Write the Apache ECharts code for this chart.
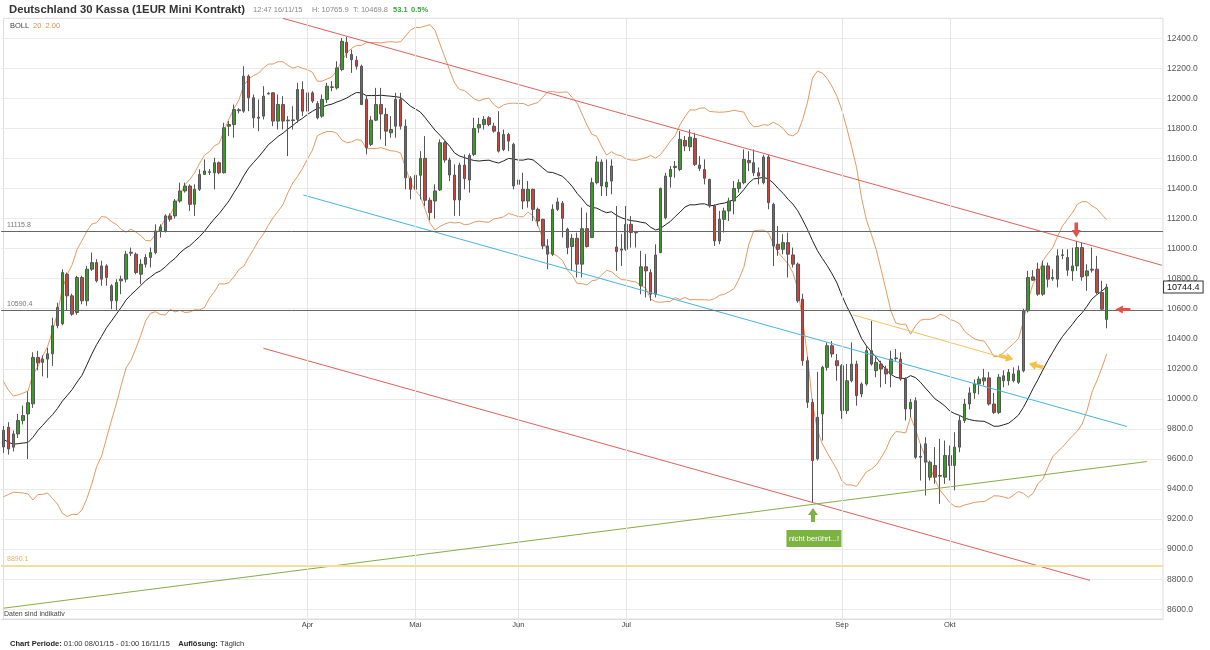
<!DOCTYPE html>
<html>
<head>
<meta charset="utf-8">
<title>Deutschland 30 Kassa</title>
<script src="https://cdn.jsdelivr.net/npm/echarts@6/dist/echarts.min.js"></script>
<style>
  html, body { margin: 0; padding: 0; background: #fff; }
  #chart { width: 1210px; height: 650px; }
</style>
</head>
<body>
<div id="chart"></div>
<script>
// daily candles, one per weekday from 05/01/15 to 16/11/15
const openPrices = [
  9680, 9811, 9679, 9767, 9856, 9900, 9967, 10276, 10243, 10265,
  10300, 10487, 10500, 10830, 10686, 10575, 10808, 10653, 10863, 10907,
  10797, 10885, 10753, 10653, 10786, 10797, 10970, 10963, 10830, 10896,
  10941, 10974, 11118, 11118, 11218, 11218, 11317, 11384, 11417, 11295,
  11395, 11494, 11508, 11505, 11572, 11505, 11815, 11826, 11918, 11915,
  12148, 12004, 11875, 11882, 12030, 12037, 11849, 11959, 11855, 11853,
  11860, 12059, 11915, 12037, 11966, 11882, 11993, 12073, 12070, 12192,
  12373, 12292, 12254, 12214, 11993, 11694, 11855, 11959, 11893, 11771,
  11815, 11993, 11815, 11468, 11395, 11488, 11601, 11322, 11317, 11391,
  11705, 11590, 11490, 11324, 11556, 11457, 11627, 11804, 11826, 11871,
  11815, 11775, 11660, 11760, 11694, 11428, 11395, 11317, 11395, 11262,
  11195, 11018, 10963, 11262, 11302, 11129, 11014, 11069, 10897, 11133,
  11074, 11439, 11576, 11410, 11450, 11011, 10990, 10996, 11162, 11105,
  10753, 10879, 10841, 10697, 10974, 11206, 11479, 11540, 11527, 11720,
  11678, 11733, 11556, 11527, 11461, 11284, 11051, 11195, 11251, 11317,
  11401, 11439, 11587, 11572, 11505, 11439, 11610, 11295, 11029, 10996,
  11040, 10958, 10897, 10664, 10254, 9977, 9601, 9900, 10210, 10354,
  10254, 10221, 9922, 10121, 10232, 10033, 10099, 10321, 10188, 10232,
  10199, 10166, 10268, 10265, 10132, 9933, 9988, 9617, 9701, 9479,
  9557, 9490, 9479, 9623, 9557, 9679, 9856, 9966, 10040, 10100,
  10120, 10140, 9966, 9910, 10154, 10121, 10166, 10110, 10187, 10586,
  10812, 10863, 10697, 10885, 10808, 10797, 10955, 10941, 10852, 10885,
  11007, 10819, 10857, 10863, 10708, 10529
];
const closePrices = [
  9790, 9667, 9767, 9856, 9889, 9975, 10276, 10240, 10265, 10300,
  10487, 10609, 10841, 10686, 10564, 10808, 10653, 10863, 10907, 10786,
  10885, 10808, 10653, 10775, 10797, 10963, 10976, 10841, 10896, 10941,
  10974, 11118, 11145, 11218, 11196, 11317, 11384, 11417, 11295, 11395,
  11494, 11517, 11512, 11572, 11505, 11804, 11826, 11926, 11924, 12148,
  12004, 11871, 11868, 12015, 12034, 11849, 11959, 11849, 11851, 11857,
  12059, 11915, 12037, 11982, 11871, 11993, 12081, 12077, 12203, 12380,
  12303, 12258, 12214, 11959, 11672, 11855, 11959, 11897, 11782, 11793,
  11993, 11815, 11472, 11395, 11488, 11601, 11322, 11240, 11384, 11705,
  11590, 11490, 11324, 11556, 11466, 11620, 11800, 11826, 11860, 11826,
  11782, 11649, 11760, 11716, 11417, 11457, 11317, 11395, 11262, 11184,
  11018, 10963, 11262, 11311, 11202, 11007, 11069, 10897, 11133, 11014,
  11439, 11576, 11417, 11443, 11550, 10981, 10998, 11162, 11107, 11109,
  10879, 10852, 10697, 10958, 11401, 11483, 11527, 11548, 11727, 11683,
  11742, 11561, 11534, 11468, 11284, 11051, 11195, 11251, 11317, 11401,
  11439, 11594, 11572, 11505, 11483, 11610, 11306, 11018, 10996, 11040,
  10963, 10897, 10653, 10254, 9977, 9590, 9878, 10210, 10354, 10299,
  10221, 9922, 10121, 10232, 10022, 10099, 10321, 10232, 10243, 10199,
  10166, 10265, 10272, 10132, 9933, 9977, 9612, 9612, 9579, 9579,
  9479, 9486, 9623, 9557, 9679, 9856, 9966, 10040, 10100, 10132,
  10140, 9966, 9910, 10144, 10121, 10177, 10121, 10188, 10586, 10808,
  10790, 10697, 10885, 10797, 10800, 10952, 10959, 10857, 10885, 11007,
  10812, 10852, 10863, 10708, 10597, 10744.4
];
const lowPrices = [
  9640, 9630, 9650, 9740, 9830, 9600, 9940, 10190, 10150, 10140,
  10220, 10470, 10490, 10590, 10553, 10560, 10630, 10620, 10852, 10775,
  10753, 10753, 10597, 10586, 10697, 10775, 10950, 10830, 10764, 10875,
  10875, 10963, 11074, 11107, 11180, 11200, 11306, 11373, 11251, 11218,
  11384, 11494, 11490, 11395, 11495, 11500, 11749, 11738, 11900, 11904,
  11915, 11804, 11782, 11860, 12026, 11815, 11793, 11793, 11616, 11793,
  11838, 11882, 11782, 11970, 11860, 11871, 11970, 12048, 12059, 12181,
  12269, 12170, 12192, 11959, 11627, 11683, 11849, 11727, 11683, 11738,
  11738, 11793, 11395, 11328, 11384, 11328, 11284, 11190, 11200, 11384,
  11572, 11450, 11218, 11218, 11395, 11373, 11616, 11771, 11793, 11815,
  11771, 11640, 11649, 11649, 11395, 11350, 11262, 11273, 11184, 11150,
  10996, 10863, 10952, 11251, 11074, 10963, 10852, 10808, 10808, 11007,
  11070, 11428, 11350, 11350, 11362, 10852, 10885, 10985, 11007, 11007,
  10697, 10675, 10653, 10675, 10970, 11195, 11406, 11472, 11516, 11649,
  11649, 11550, 11516, 11428, 11273, 11018, 11029, 11107, 11184, 11228,
  11373, 11428, 11516, 11483, 11428, 11428, 11262, 10885, 10952, 10963,
  10808, 10875, 10640, 10221, 9940, 9313, 9590, 9723, 10188, 10276,
  10121, 9867, 9900, 10110, 9955, 10011, 10088, 10221, 10144, 10077,
  10099, 10077, 10254, 10121, 9856, 9878, 9601, 9457, 9357, 9457,
  9435, 9302, 9435, 9457, 9391, 9645, 9840, 9930, 10000, 10030,
  10090, 9955, 9900, 9900, 10077, 10090, 10110, 10099, 10177, 10575,
  10786, 10686, 10686, 10742, 10786, 10742, 10930, 10819, 10786, 10852,
  10786, 10719, 10841, 10697, 10586, 10469.8
];
const highPrices = [
  9820, 9845, 9790, 9900, 9955, 10050, 10310, 10320, 10290, 10340,
  10540, 10640, 10863, 10841, 10700, 10820, 10820, 10885, 10974, 10930,
  10920, 10896, 10764, 10797, 10820, 10985, 11007, 10974, 10930, 10963,
  11007, 11162, 11162, 11229, 11235, 11330, 11439, 11439, 11428, 11428,
  11528, 11594, 11530, 11605, 11580, 11838, 11849, 11959, 11935, 12214,
  12159, 12026, 11993, 12081, 12041, 12041, 12026, 12015, 11882, 11948,
  12103, 12114, 12092, 12048, 11982, 12026, 12103, 12114, 12247, 12402,
  12409, 12325, 12281, 12225, 12015, 11882, 12070, 12070, 11937, 11882,
  12037, 12037, 11860, 11483, 11505, 11649, 11749, 11340, 11428, 11727,
  11716, 11605, 11561, 11572, 11627, 11634, 11871, 11871, 11882, 11882,
  11838, 11915, 11793, 11771, 11705, 11505, 11505, 11450, 11400, 11273,
  11200, 11063, 11295, 11339, 11317, 11140, 11096, 11107, 11273, 11240,
  11472, 11616, 11594, 11594, 11594, 11284, 11096, 11284, 11217, 11118,
  10985, 10963, 10863, 11029, 11406, 11505, 11550, 11583, 11782, 11749,
  11793, 11771, 11616, 11594, 11465, 11295, 11251, 11273, 11339, 11450,
  11461, 11660, 11649, 11660, 11540, 11625, 11625, 11306, 11150, 11096,
  11107, 11007, 10908, 10700, 10280, 10000, 10180, 10221, 10376, 10385,
  10299, 10232, 10232, 10376, 10254, 10110, 10354, 10520, 10276, 10254,
  10221, 10321, 10332, 10310, 10144, 10000, 10011, 9701, 9745, 9590,
  9679, 9734, 9723, 9690, 9778, 9889, 10000, 10077, 10130, 10150,
  10200, 10180, 10040, 10166, 10190, 10199, 10210, 10221, 10600, 10852,
  10857, 10907, 10919, 10907, 10863, 10996, 10996, 10996, 11007, 11051,
  11040, 10896, 11007, 10952, 10786, 10765.9
];
// closes of the 19 sessions before the first candle, only used for BOLL 20
const warmupCloses = [
  10087, 10014, 9793, 9799, 9903, 9594, 9335, 9563, 9564, 9811,
  9787, 9866, 9922, 9783, 9806, 9765, 9473, 9469, 9518
];

// drawn lines: [slot index, price] end points
const resistanceLine = [[57.0, 12533], [236.3, 10889]];
const channelLine = [[61.15, 11357], [229.15, 9816]];
const supportLine = [[53.0, 10337], [221.6, 8792]];
const riseLine = [[0, 8607], [233.2, 9583]];
const shortLine = [[173.3, 10559], [203.2, 10281]];
const levelValues = [11115.8, 10590.4, 8890.1];
const lastPrice = 10744.4;

// annotations: [slot index, price]
const redDownArrow = [218.8, 11124];
const redLeftArrow = [228.3, 10595];
const goldRightArrow = [204.5, 10276];
const goldLeftArrow = [210.6, 10222];
const greenUpArrow = [165.1, 9228];
const noteBox = [165.3, 9071];

const labelMonths = ['2015-04', '2015-05', '2015-06', '2015-07', '2015-09', '2015-10'];
const monthLabels = ['Apr', 'Mai', 'Jun', 'Jul', 'Sep', 'Okt'];

const SLOTS = 237;          // 226 sessions + empty space on the right
const FRAME_TOP = 12533;
const FRAME_BOTTOM = 8535;

const days = [];
for (let t = Date.UTC(2015, 0, 5); days.length < SLOTS; t += 86400000) {
  const d = new Date(t);
  const wd = d.getUTCDay();
  if (wd === 0 || wd === 6) continue;
  days.push(d.toISOString().slice(0, 10));
}
const monthIdx = labelMonths.map(m => days.findIndex(d => d.slice(0, 7) === m));

const candleData = openPrices.map((o, i) => [o, closePrices[i], lowPrices[i], highPrices[i]]);

// BOLL 20 2.00
const allCloses = warmupCloses.concat(closePrices);
const bollMid = [], bollUp = [], bollLow = [];
for (let i = 0; i < closePrices.length; i++) {
  const win = allCloses.slice(i + warmupCloses.length - 19, i + warmupCloses.length + 1);
  const mean = win.reduce((a, b) => a + b, 0) / win.length;
  const sd = Math.sqrt(win.reduce((a, b) => a + (b - mean) * (b - mean), 0) / win.length);
  bollMid.push(+mean.toFixed(1));
  bollUp.push(+(mean + 2 * sd).toFixed(1));
  bollLow.push(+(mean - 2 * sd).toFixed(1));
}

const FONT = '"Liberation Sans", Arial, sans-serif';
const ARROW = 'path://M5,0 L10,6 L7,6 L7,12 L3,12 L3,6 L0,6 Z';

function trend(data, color, width) {
  return {
    type: 'line', xAxisIndex: 1, yAxisIndex: 0, data: data,
    symbol: 'none', silent: true, z: 4,
    lineStyle: { color: color, width: width || 1 }
  };
}

const chart = echarts.init(document.getElementById('chart'));
chart.setOption({
  animation: false,
  backgroundColor: '#fff',
  grid: { left: 1.05, right: 46.95, top: 8.25, bottom: 10.7 },
  xAxis: [
    {
      type: 'category', data: days, boundaryGap: true, offset: -20.3,
      axisLine: { show: true, lineStyle: { color: '#dddddd' } },
      axisTick: {
        show: true, alignWithLabel: true, length: 10,
        interval: idx => monthIdx.includes(idx),
        lineStyle: { color: '#e6e6e6' }
      },
      axisLabel: {
        interval: idx => monthIdx.includes(idx),
        formatter: (v, idx) => monthLabels[monthIdx.indexOf(idx)] || '',
        margin: 2, fontSize: 7.5, color: '#444', fontFamily: FONT
      },
      splitLine: { show: false }
    },
    { type: 'value', min: -0.5, max: SLOTS - 0.5, show: false }
  ],
  yAxis: {
    type: 'value', position: 'right', min: 8400, max: 12600, interval: 200,
    axisLine: { show: false }, axisTick: { show: false },
    axisLabel: {
      showMinLabel: false, showMaxLabel: false, margin: 4,
      formatter: v => v.toFixed(1), fontSize: 8.5, color: '#555', fontFamily: FONT
    },
    splitLine: { show: true, showMinLine: false, showMaxLine: false, lineStyle: { color: '#ebebeb' } }
  },
  graphic: [
    { type: 'rect', z: 0, silent: true,
      shape: { x: 3.5, y: 18.3, width: 1159.5, height: 600.7 },
      style: { fill: 'none', stroke: '#dddddd', lineWidth: 1 } },
    { type: 'text', x: 9, y: 9.5, silent: true, style: {
      text: 'Deutschland 30 Kassa (1EUR Mini Kontrakt)', font: 'bold 11.3px ' + FONT,
      fill: '#333', textVerticalAlign: 'middle' } },
    { type: 'text', x: 253, y: 10, silent: true, style: {
      text: '12:47 16/11/15', font: '7.5px ' + FONT, fill: '#888', textVerticalAlign: 'middle' } },
    { type: 'text', x: 312, y: 10, silent: true, style: {
      text: 'H: 10765.9', font: '7.5px ' + FONT, fill: '#888', textVerticalAlign: 'middle' } },
    { type: 'text', x: 353, y: 10, silent: true, style: {
      text: 'T: 10469.8', font: '7.5px ' + FONT, fill: '#888', textVerticalAlign: 'middle' } },
    { type: 'text', x: 393, y: 10, silent: true, style: {
      text: '53.1', font: 'bold 7.5px ' + FONT, fill: '#3aa33a', textVerticalAlign: 'middle' } },
    { type: 'text', x: 411, y: 10, silent: true, style: {
      text: '0.5%', font: 'bold 7.5px ' + FONT, fill: '#3aa33a', textVerticalAlign: 'middle' } },
    { type: 'text', x: 10, y: 26, silent: true, style: {
      text: 'BOLL', font: '7.5px ' + FONT, fill: '#444', textVerticalAlign: 'middle' } },
    { type: 'text', x: 33, y: 26, silent: true, style: {
      text: '20  2.00', font: '7.5px ' + FONT, fill: '#d9905a', textVerticalAlign: 'middle' } },
    { type: 'text', x: 4, y: 613.8, silent: true, style: {
      text: 'Daten sind indikativ', font: '7px ' + FONT, fill: '#444', textVerticalAlign: 'middle' } },
    { type: 'text', x: 10, y: 644, silent: true, style: {
      text: '{b|Chart Periode:} 01:00 08/01/15 - 01:00 16/11/15    {b|Auflösung:} Täglich',
      font: '7.5px ' + FONT, fill: '#333', textVerticalAlign: 'middle',
      rich: { b: { fontWeight: 'bold', fontSize: 7.5, fontFamily: FONT, fill: '#222' } } } }
  ],
  series: [
    {
      // vertical month lines
      type: 'line', xAxisIndex: 1, yAxisIndex: 0, data: [], z: 1, silent: true,
      markLine: {
        silent: true, symbol: ['none', 'none'], label: { show: false },
        lineStyle: { color: '#e6e6e6', width: 1, type: 'solid' },
        data: monthIdx.map(i => [{ coord: [i, FRAME_TOP] }, { coord: [i, FRAME_BOTTOM] }])
      }
    },
    {
      type: 'candlestick', xAxisIndex: 0, yAxisIndex: 0, data: candleData,
      barWidth: 3, z: 3,
      itemStyle: {
        color: '#3a9b2b', color0: '#c9443e',
        borderColor: '#565656', borderColor0: '#565656', borderWidth: 1
      },
      markLine: {
        silent: true, symbol: ['none', 'none'],
        lineStyle: { color: 'rgba(0,0,0,0)', width: 1, type: 'solid' },
        label: {
          show: true, position: 'end', distance: 1, formatter: '10744.4',
          backgroundColor: '#fff', borderColor: '#333', borderWidth: 1,
          padding: [1, 3, 1, 3], fontSize: 9, color: '#111', fontFamily: FONT
        },
        data: [{ yAxis: lastPrice }]
      }
    },
    { type: 'line', name: 'BOLL up', data: bollUp, symbol: 'none', silent: true, z: 2,
      lineStyle: { color: '#e39a62', width: 1 } },
    { type: 'line', name: 'BOLL low', data: bollLow, symbol: 'none', silent: true, z: 2,
      lineStyle: { color: '#e39a62', width: 1 } },
    { type: 'line', name: 'BOLL mid', data: bollMid, symbol: 'none', silent: true, z: 2,
      lineStyle: { color: '#222', width: 1 } },
    trend(resistanceLine, '#e0605c'),
    trend(channelLine, '#45b4e0'),
    trend(supportLine, '#e0605c'),
    trend(riseLine, '#86ad45'),
    trend(shortLine, '#f2c45a'),
    {
      // horizontal levels and notes
      type: 'line', xAxisIndex: 1, yAxisIndex: 0, data: [], z: 5, silent: true,
      markLine: {
        silent: true, symbol: ['none', 'none'],
        data: [
          { yAxis: levelValues[0], lineStyle: { color: '#666', width: 1, type: 'solid' },
            label: { formatter: '11115.8', color: '#777' } },
          { yAxis: levelValues[1], lineStyle: { color: '#666', width: 1, type: 'solid' },
            label: { formatter: '10590.4', color: '#777' } },
          { yAxis: levelValues[2], lineStyle: { color: '#f2dfa0', width: 2, type: 'solid' },
            label: { formatter: '8890.1', color: '#e5b35a' } }
        ],
        label: { show: true, position: 'insideStartTop', distance: [6, 3], fontSize: 7, fontFamily: FONT }
      },
      markPoint: {
        silent: true,
        data: [
          { coord: redDownArrow, symbol: ARROW, symbolSize: [9, 15], symbolRotate: 180,
            itemStyle: { color: '#e2504a' }, label: { show: false } },
          { coord: redLeftArrow, symbol: ARROW, symbolSize: [8, 15], symbolRotate: 90,
            itemStyle: { color: '#e2504a' }, label: { show: false } },
          { coord: goldRightArrow, symbol: ARROW, symbolSize: [9, 15], symbolRotate: -105,
            itemStyle: { color: '#f2c24a' }, label: { show: false } },
          { coord: goldLeftArrow, symbol: ARROW, symbolSize: [9, 15], symbolRotate: 75,
            itemStyle: { color: '#f2c24a' }, label: { show: false } },
          { coord: greenUpArrow, symbol: ARROW, symbolSize: [10, 14],
            itemStyle: { color: '#7cb342' }, label: { show: false } },
          { coord: noteBox, symbol: 'rect', symbolSize: [55, 17],
            itemStyle: { color: '#7cb342' },
            label: { show: true, position: 'inside', formatter: 'nicht berührt...!',
              color: '#fff', fontSize: 7.5, fontFamily: FONT } }
        ]
      }
    }
  ]
});
</script>
</body>
</html>
